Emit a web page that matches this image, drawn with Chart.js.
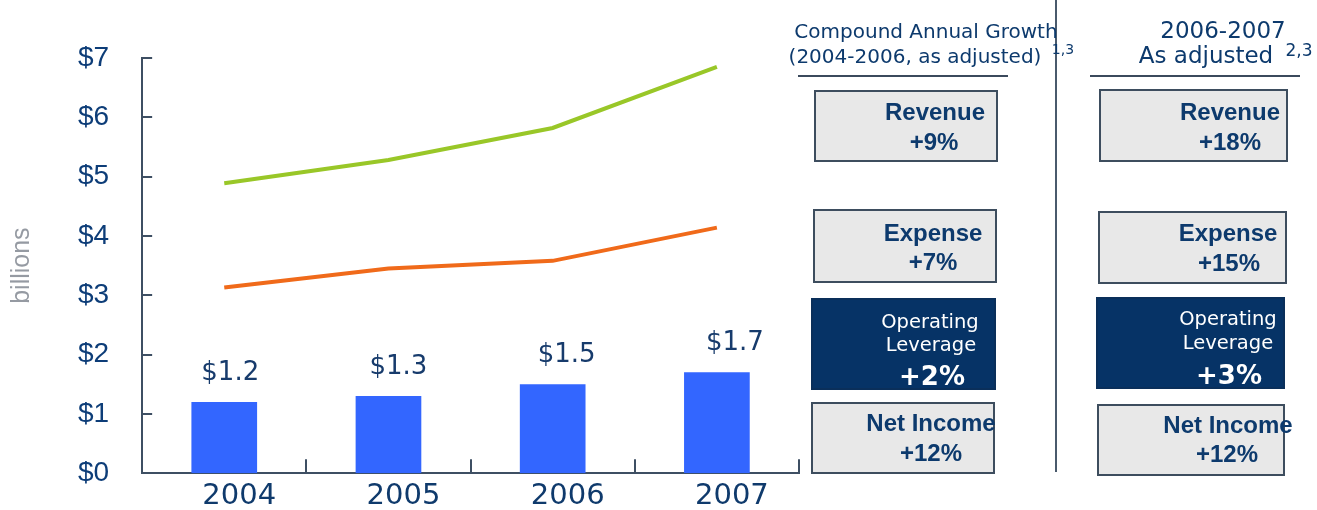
<!DOCTYPE html>
<html>
<head>
<meta charset="utf-8">
<script src="https://cdn.jsdelivr.net/npm/chart.js@4/dist/chart.umd.min.js"></script>
<style>
  html, body { margin: 0; padding: 0; background: #ffffff; }
  #wrap { position: relative; width: 1317px; height: 510px; overflow: hidden; }
  #c { position: absolute; left: 0; top: 0; }
  .t { position: absolute; white-space: nowrap; text-align: center; width: 300px; }
  .box { position: absolute; box-sizing: border-box; border: 2px solid #3d4d5e; background: #e8e8e8; }
  .dark { background: #063366; border-color: #0a2f5a; }
  .hline { position: absolute; height: 2px; background: #3b4a5c; }
</style>
</head>
<body>
<div id="wrap">
  <canvas id="c" width="1317" height="523"></canvas>
  <div id="panel"></div>
</div>
<script>
// ---- data ----
const categories = ['2004', '2005', '2006', '2007'];
const netIncome = [1.2, 1.3, 1.5, 1.7];
const revenue = [4.89, 5.28, 5.82, 6.85];
const expense = [3.13, 3.45, 3.58, 4.14];
const yTickPrefix = '$';
const yMin = 0, yMax = 7, yStep = 1;
const axisTitle = 'billions';

const cagrTitle = ['Compound Annual Growth', '(2004-2006, as adjusted)'];
const cagrNote = '1,3';
const yoyTitle = ['2006-2007', 'As adjusted'];
const yoyNote = '2,3';
const metricNames = ['Revenue', 'Expense', 'Operating Leverage', 'Net Income'];
const cagrValues = ['+9%', '+7%', '+2%', '+12%'];
const yoyValues = ['+18%', '+15%', '+3%', '+12%'];

const navy = '#0d3a6d';
const axisColor = '#3e4f63';

// ---- plugins ----
const innerTicks = {
  id: 'innerTicks',
  afterDraw(chart) {
    const { ctx, scales: { x, y }, chartArea } = chart;
    ctx.save();
    ctx.strokeStyle = axisColor;
    ctx.lineWidth = 2;
    y.ticks.forEach((t, i) => {
      if (t.value === yMin) return;
      const py = Math.round(y.getPixelForTick(i));
      ctx.beginPath();
      ctx.moveTo(chartArea.left, py);
      ctx.lineTo(chartArea.left + 10, py);
      ctx.stroke();
    });
    for (let i = 1; i <= categories.length; i++) {
      const px = Math.round(x.getPixelForValue(i - 0.5));
      ctx.beginPath();
      ctx.moveTo(px, chartArea.bottom);
      ctx.lineTo(px, chartArea.bottom - 14);
      ctx.stroke();
    }
    // bar value labels
    ctx.fillStyle = '#173b6c';
    ctx.font = '26px "DejaVu Sans"';
    ctx.textAlign = 'center';
    ctx.textBaseline = 'middle';
    chart.getDatasetMeta(0).data.forEach((bar, i) => {
      ctx.fillText(yTickPrefix + netIncome[i].toFixed(1), bar.x + 6 + i * 4, bar.y - 29);
    });
    ctx.restore();
  }
};

new Chart(document.getElementById('c'), {
  type: 'bar',
  data: {
    labels: categories,
    datasets: [
      { type: 'bar', label: 'Net Income', data: netIncome, backgroundColor: '#3366ff',
        barPercentage: 0.4, categoryPercentage: 1.0, order: 2 },
      { type: 'line', label: 'Revenue', data: revenue, borderColor: '#99c728', borderWidth: 4,
        pointRadius: 0, tension: 0, fill: false, order: 1 },
      { type: 'line', label: 'Expense', data: expense, borderColor: '#f06a1a', borderWidth: 4,
        pointRadius: 0, tension: 0, fill: false, order: 1 }
    ]
  },
  options: {
    responsive: false,
    animation: false,
    devicePixelRatio: 1,
    layout: { padding: { top: 58, right: 518, bottom: 0, left: 0 } },
    plugins: { legend: { display: false }, tooltip: { enabled: false } },
    scales: {
      x: {
        offset: true,
        grid: { display: false, drawTicks: false },
        border: { display: true, color: axisColor, width: 2 },
        ticks: { font: { family: 'DejaVu Sans', size: 29 }, color: '#0f3a6c', padding: 6, labelOffset: 15 }
      },
      y: {
        min: yMin, max: yMax,
        grid: { display: false, drawTicks: false },
        border: { display: true, color: axisColor, width: 2 },
        ticks: { stepSize: yStep, font: { family: 'Liberation Sans', size: 28 }, color: '#0d3d78', padding: 33,
          callback: v => yTickPrefix + v },
        title: { display: true, text: axisTitle, color: '#959aa2',
          font: { family: 'Liberation Sans', size: 25 }, padding: { top: 7, bottom: 8 } }
      }
    }
  },
  plugins: [innerTicks]
});

// ---- side panel (HTML) ----
const panel = document.getElementById('panel');
function txt(s, cx, cy, font, color, size) {
  const d = document.createElement('div');
  d.className = 't';
  d.textContent = s;
  d.style.left = (cx - 150) + 'px';
  d.style.top = (cy - size * 0.6) + 'px';
  d.style.lineHeight = (size * 1.2) + 'px';
  d.style.font = font;
  d.style.color = color;
  panel.appendChild(d);
  return d;
}
function rect(cls, l, t, r, b) {
  const d = document.createElement('div');
  d.className = cls;
  d.style.left = l + 'px'; d.style.top = t + 'px';
  d.style.width = (r - l) + 'px'; d.style.height = (b - t) + 'px';
  panel.appendChild(d);
}
// divider
const dv = document.createElement('div');
dv.style.cssText = 'position:absolute;left:1055px;top:0;width:2px;height:472px;background:#4a5a6c;';
panel.appendChild(dv);
// headers
txt(cagrTitle[0], 926, 31, '20px "DejaVu Sans"', navy, 20);
txt(cagrTitle[1], 915, 56, '20px "DejaVu Sans"', navy, 20);
txt(cagrNote, 1063, 49, '14px "DejaVu Sans"', navy, 14);
txt(yoyTitle[0], 1223, 31, '23px "DejaVu Sans"', navy, 23);
txt(yoyTitle[1], 1206, 56, '23px "DejaVu Sans"', navy, 23);
txt(yoyNote, 1299, 50, '17px "DejaVu Sans"', navy, 17);
rect('hline', 798, 75, 1008, 77);
rect('hline', 1090, 75, 1300, 77);

// boxes
const leftBoxes = [[814, 90, 998, 162], [813, 209, 997, 283], [811, 298, 996, 390], [811, 402, 995, 474]];
const rightBoxes = [[1099, 89, 1288, 162], [1098, 211, 1287, 284], [1096, 297, 1285, 389], [1097, 404, 1285, 476]];
leftBoxes.forEach((b, i) => rect(i === 2 ? 'box dark' : 'box', ...b));
rightBoxes.forEach((b, i) => rect(i === 2 ? 'box dark' : 'box', ...b));

const bold24 = 'bold 24px "Liberation Sans"';
const op = '19.5px "DejaVu Sans"';
// left column text
txt(metricNames[0], 935, 112, bold24, navy, 24);
txt(cagrValues[0], 934, 142, bold24, navy, 24);
txt(metricNames[1], 933, 233, bold24, navy, 24);
txt(cagrValues[1], 933, 262, bold24, navy, 24);
txt('Operating', 930, 322, op, '#ffffff', 19.5);
txt('Leverage', 931, 345, op, '#ffffff', 19.5);
txt(cagrValues[2], 932, 377, 'bold 26px "DejaVu Sans"', '#ffffff', 26);
txt(metricNames[3], 931, 423, bold24, navy, 24);
txt(cagrValues[3], 931, 453, bold24, navy, 24);
// right column text
txt(metricNames[0], 1230, 112, bold24, navy, 24);
txt(yoyValues[0], 1230, 142, bold24, navy, 24);
txt(metricNames[1], 1228, 233, bold24, navy, 24);
txt(yoyValues[1], 1229, 263, bold24, navy, 24);
txt('Operating', 1228, 319, op, '#ffffff', 19.5);
txt('Leverage', 1228, 343, op, '#ffffff', 19.5);
txt(yoyValues[2], 1229, 376, 'bold 26px "DejaVu Sans"', '#ffffff', 26);
txt(metricNames[3], 1228, 425, bold24, navy, 24);
txt(yoyValues[3], 1227, 454, bold24, navy, 24);
</script>
</body>
</html>
